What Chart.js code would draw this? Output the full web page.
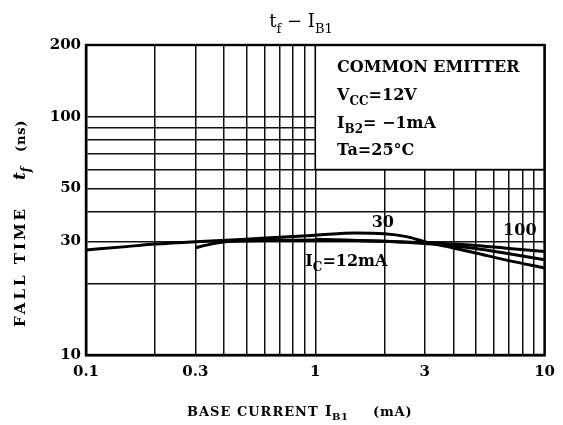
<!DOCTYPE html>
<html><head><meta charset="utf-8">
<script src="https://cdn.jsdelivr.net/npm/chart.js@4"></script>
<style>html,body{margin:0;padding:0;background:#fff}#wrap{width:563px;height:425px;position:relative}</style>
</head><body><div id="wrap"><canvas id="c" width="563" height="425" style="width:563px;height:425px"></canvas></div>
<script>
// ---- data ----
const ib1_12 = [0.1, 0.15, 0.2, 0.3, 0.5, 0.7, 1, 1.5, 2, 2.5, 3, 4, 5, 7, 10];
const tf_12  = [27.6, 28.5, 29.2, 29.9, 30.6, 31.2, 31.8, 32.5, 32.3, 31.4, 29.9, 28.1, 26.8, 24.9, 23.2];
const ib1_30 = [0.3, 0.35, 0.4, 0.5, 0.7, 1, 2, 3, 4, 5, 7, 10];
const tf_30  = [28.2, 29.2, 29.8, 30.1, 30.3, 30.4, 30.0, 29.4, 28.7, 28.0, 26.6, 25.1];
const ib1_100 = [1, 2, 3, 4, 5, 7, 10];
const tf_100  = [30.6, 30.0, 29.6, 29.2, 28.8, 28.0, 27.2];

const xGridValues = [0.1,0.2,0.3,0.4,0.5,0.6,0.7,0.8,0.9,1,2,3,4,5,6,7,8,9,10];
const yGridValues = [10,20,30,40,50,60,70,80,90,100,200];
const xTickLabels = [0.1, 0.3, 1, 3, 10];
const yTickLabels = [10, 30, 50, 100, 200];

// condition box (data coords) and text annotations
const boxRange = {x0: 1, x1: 10, y0: 60, y1: 200};
const SERIF = '"DejaVu Serif", "Liberation Serif", serif';

function pts(xs, ys){ return xs.map((x,i)=>({x:x, y:ys[i]})); }

// draw runs of text with optional subscripts
function drawRuns(ctx, runs, x, y, align, baseSize, weight, spacing){
  const subSize = Math.round(baseSize*0.72);
  ctx.save();
  ctx.textBaseline = 'alphabetic';
  ctx.letterSpacing = (spacing||0)+'px';
  let total = 0;
  const meas = runs.map(r=>{
    const sz = r.sub ? subSize : baseSize;
    ctx.font = (r.italic?'italic ':'') + (weight||'normal') + ' ' + sz + 'px ' + SERIF;
    const w = ctx.measureText(r.t).width;
    total += w;
    return {w, sz};
  });
  let cx = align==='center' ? x - total/2 : (align==='right'? x-total : x);
  runs.forEach((r,i)=>{
    const sz = meas[i].sz;
    ctx.font = (r.italic?'italic ':'') + (weight||'normal') + ' ' + sz + 'px ' + SERIF;
    ctx.fillStyle = '#000';
    ctx.fillText(r.t, cx, y + (r.sub ? baseSize*0.32 : 0));
    cx += meas[i].w;
  });
  ctx.restore();
}

const annotations = [
  {x: 1.245, y: 163.8, runs:[{t:'COMMON EMITTER'}]},
  {x: 1.245, y: 124.9, runs:[{t:'V'},{t:'CC',sub:true},{t:'=12V'}]},
  {x: 1.245, y: 95.3,  runs:[{t:'I'},{t:'B2',sub:true},{t:'= \u22121mA'}]},
  {x: 1.245, y: 73.4,  runs:[{t:'Ta=25\u00b0C'}]},
  {x: 1.97,  y: 36.6,  runs:[{t:'30'}], align:'center'},
  {x: 7.8,   y: 33.8,  runs:[{t:'100'}], align:'center'},
  {x: 0.905, y: 25.1,  runs:[{t:'I'},{t:'C',sub:true},{t:'=12mA'}]}
];

const overlay = {
  id:'overlay',
  beforeDatasetsDraw(chart){
    const {ctx, scales:{x, y}} = chart;
    const l = x.getPixelForValue(boxRange.x0), r = x.getPixelForValue(boxRange.x1);
    const t = y.getPixelForValue(boxRange.y1), b = y.getPixelForValue(boxRange.y0);
    ctx.save();
    ctx.fillStyle = '#fff';
    ctx.fillRect(l, t, r-l, b-t);
    ctx.strokeStyle = '#000';
    ctx.lineWidth = 1.6;
    ctx.strokeRect(l, t, r-l, b-t);
    ctx.restore();
  },
  afterDraw(chart){
    const {ctx, scales:{x, y}, chartArea:ca} = chart;
    ctx.save();
    ctx.strokeStyle='#000'; ctx.lineWidth=2.4;
    ctx.strokeRect(ca.left, ca.top, ca.right-ca.left, ca.bottom-ca.top);
    ctx.restore();
    annotations.forEach(a=>{
      const px = x.getPixelForValue(a.x), py = y.getPixelForValue(a.y);
      drawRuns(ctx, a.runs, px, py+6, a.align||'left', 16, 'bold', 0);
    });
    // title
    drawRuns(ctx, [{t:'t'},{t:'f',sub:true},{t:' \u2212 '},{t:'I'},{t:'B1',sub:true}], 301, 27, 'center', 18, 'normal', 0);
    // x axis title
    drawRuns(ctx, [{t:'BASE CURRENT'}], 187, 416, 'left', 13, 'bold', 1.0);
    drawRuns(ctx, [{t:'I'},{t:'B1',sub:true}], 325, 416, 'left', 14, 'bold', 0.5);
    drawRuns(ctx, [{t:'(mA)'}], 373, 416, 'left', 13, 'bold', 0.8);
    // y axis title (rotated)
    ctx.save();
    ctx.translate(25, 0);
    ctx.rotate(-Math.PI/2);
    drawRuns(ctx, [{t:'FALL TIME'}], -327, 0, 'left', 15, 'bold', 3);
    drawRuns(ctx, [{t:'t',italic:true},{t:'f',sub:true,italic:true}], -180, 0, 'left', 17, 'bold', 0);
    drawRuns(ctx, [{t:'(ns)'}], -152, 0, 'left', 13, 'bold', 0.8);
    ctx.restore();
  }
};

const lineStyle = {borderColor:'#000', borderWidth:3, pointRadius:0, fill:false, tension:0.35, cubicInterpolationMode:'monotone'};

new Chart(document.getElementById('c'), {
  type:'line',
  data:{datasets:[
    Object.assign({label:'12mA', data: pts(ib1_12, tf_12)}, lineStyle),
    Object.assign({label:'30mA', data: pts(ib1_30, tf_30)}, lineStyle),
    Object.assign({label:'100mA', data: pts(ib1_100, tf_100)}, lineStyle)
  ]},
  options:{
    responsive:false, animation:false, devicePixelRatio:1,
    layout:{padding:{top:45, right:15, left:0, bottom:0}},
    plugins:{legend:{display:false}, tooltip:{enabled:false}, title:{display:false}},
    scales:{
      x:{type:'logarithmic', min:0.1, max:10,
        afterBuildTicks(s){ s.ticks = xGridValues.map(v=>({value:v})); },
        afterFit(s){ s.height = 70; },
        grid:{color:'#111', lineWidth:1.5, drawTicks:false},
        border:{color:'#000', width:2.4},
        ticks:{autoSkip:false, maxRotation:0, minRotation:0, padding:8, color:'#000',
          font:{family:SERIF, size:15, weight:'bold'},
          callback:(v)=> xTickLabels.includes(v) ? String(v) : ''}
      },
      y:{type:'logarithmic', min:10, max:200,
        afterBuildTicks(s){ s.ticks = yGridValues.map(v=>({value:v})); },
        afterFit(s){ s.width = 86; },
        grid:{color:'#111', lineWidth:1.5, drawTicks:false},
        border:{color:'#000', width:2.4},
        ticks:{autoSkip:false, padding:5, color:'#000',
          font:{family:SERIF, size:15, weight:'bold'},
          callback:(v)=> yTickLabels.includes(v) ? String(v) : ''}
      }
    }
  },
  plugins:[overlay]
});
</script></body></html>
